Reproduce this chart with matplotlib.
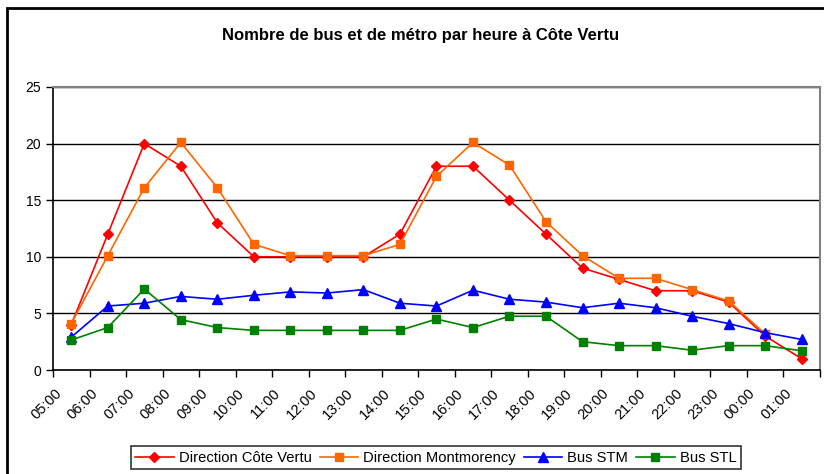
import numpy as np
import matplotlib
matplotlib.use("Agg")
import matplotlib.pyplot as plt
from matplotlib.patches import Rectangle
from matplotlib.transforms import ScaledTranslation

plt.rcParams['font.family'] = ['Liberation Sans', 'DejaVu Sans']

# Heures de la journée (catégories)
heures = ['05:00', '06:00', '07:00', '08:00', '09:00', '10:00', '11:00',
          '12:00', '13:00', '14:00', '15:00', '16:00', '17:00', '18:00',
          '19:00', '20:00', '21:00', '22:00', '23:00', '00:00', '01:00']

# Nombre de passages par heure
cote_vertu = [4, 12, 20, 18, 13, 10, 10, 10, 10, 12, 18, 18, 15, 12,
              9, 8, 7, 7, 6, 3, 1]
montmorency = [4.1, 10.1, 16.1, 20.1, 16.1, 11.1, 10.1, 10.1, 10.1, 11.1,
               17.1, 20.1, 18.1, 13.1, 10.1, 8.1, 8.1, 7.1, 6.1, 3.2, np.nan]
bus_stm = [2.9, 5.65, 5.9, 6.5, 6.25, 6.6, 6.9, 6.8, 7.1, 5.9, 5.65, 7.05,
           6.25, 6.0, 5.5, 5.9, 5.5, 4.75, 4.1, 3.3, 2.7]
bus_stl = [2.65, 3.75, 7.15, 4.45, 3.75, 3.5, 3.5, 3.5, 3.5, 3.5, 4.5, 3.75,
           4.75, 4.75, 2.5, 2.15, 2.15, 1.75, 2.15, 2.15, 1.7]

series = [
    ('Direction Côte Vertu', cote_vertu, '#FF0000', 'D', 5),
    ('Direction Montmorency', montmorency, '#FF6600', 's', 6),
    ('Bus STM', bus_stm, '#0000FF', '^', 7),
    ('Bus STL', bus_stl, '#008000', 's', 6),
]

fig = plt.figure(figsize=(8.24, 4.74), dpi=100)
ax = fig.add_axes([0.0643, 0.2194, 0.9307, 0.5971])

x = np.arange(len(heures))
for nom, vals, couleur, marq, taille in series:
    ax.plot(x, vals, color=couleur, marker=marq, markersize=taille,
            linewidth=1.2, label=nom)

ax.set_xlim(-0.5, len(heures) - 0.5)
ax.set_ylim(0, 25)
ax.set_yticks(range(0, 26, 5))
ax.yaxis.grid(True, color='black', linewidth=1)
ax.set_axisbelow(True)

# graduations entre les catégories, étiquettes au centre
ax.set_xticks(np.arange(-0.5, len(heures)), minor=False)
ax.set_xticklabels([])
ax.set_xticks(x, minor=True)
ax.set_xticklabels(heures, minor=True, rotation=45, ha='right',
                   rotation_mode='anchor', fontsize=10.5)
ax.tick_params(axis='x', which='major', direction='out', length=5, width=1)
ax.tick_params(axis='x', which='minor', length=0, pad=8)
ax.tick_params(axis='y', direction='out', length=5, width=1, labelsize=10)

decalage = ScaledTranslation(-17 / 100, -5 / 100, fig.dpi_scale_trans)
for lab in ax.get_xticklabels(minor=True):
    lab.set_transform(lab.get_transform() + decalage)

for side in ['left', 'bottom']:
    ax.spines[side].set_color('black')
    ax.spines[side].set_linewidth(1.2)
for side in ['top', 'right']:
    ax.spines[side].set_color('#808080')
    ax.spines[side].set_linewidth(1.5)

fig.text(0.51, 0.925, 'Nombre de bus et de métro par heure à Côte Vertu',
         ha='center', va='center', fontsize=12, fontweight='bold')

leg = fig.legend(loc='center', bbox_to_anchor=(0.529, 0.034), ncol=4,
                 fontsize=10.6, frameon=True, fancybox=False,
                 handlelength=2.6, columnspacing=0.55, handletextpad=0.35,
                 borderpad=0.3, borderaxespad=0)
leg.get_frame().set_edgecolor('black')
leg.get_frame().set_linewidth(1.2)

# cadre du graphique
fig.patches.append(Rectangle((7 / 824, -0.1), 1.2, 1 - 8 / 474 + 0.1,
                             transform=fig.transFigure, fill=False,
                             edgecolor='black', linewidth=2))

fig.savefig('out.png', dpi=100)
